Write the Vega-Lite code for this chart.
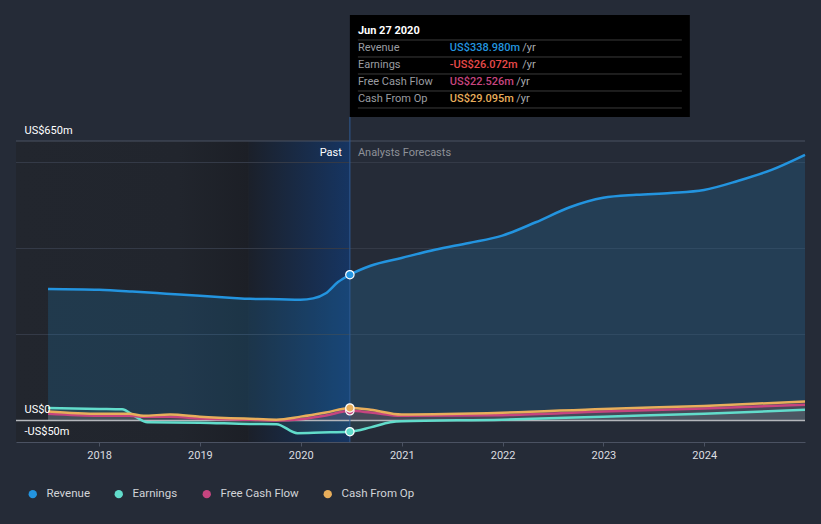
{
  "$schema": "https://vega.github.io/schema/vega-lite/v6.json",
  "width": 789,
  "height": 301,
  "autosize": "none",
  "padding": {"left": 16, "top": 141, "right": 16, "bottom": 82},
  "background": "#252b37",
  "config": {
    "view": {"stroke": null},
    "font": "Roboto",
    "axis": {"title": null, "grid": false},
    "legend": {
      "orient": "none",
      "legendX": 11,
      "legendY": 347,
      "direction": "horizontal",
      "symbolType": "circle",
      "symbolSize": 70,
      "symbolStrokeWidth": 0,
      "symbolOpacity": 1,
      "labelColor": "#d2d4d8",
      "labelFontSize": 11.5,
      "labelFont": "Roboto",
      "columnPadding": 23,
      "labelOffset": 8,
      "padding": 0,
      "title": null
    }
  },
  "datasets": {
    "series": [
      {"date": "2017-06-30", "series": "Revenue", "value": 306},
      {"date": "2018-01-01", "series": "Revenue", "value": 304},
      {"date": "2018-05-01", "series": "Revenue", "value": 300},
      {"date": "2018-09-01", "series": "Revenue", "value": 295},
      {"date": "2019-01-01", "series": "Revenue", "value": 290},
      {"date": "2019-05-01", "series": "Revenue", "value": 285},
      {"date": "2019-07-01", "series": "Revenue", "value": 283},
      {"date": "2019-10-15", "series": "Revenue", "value": 282},
      {"date": "2019-12-31", "series": "Revenue", "value": 281},
      {"date": "2020-02-15", "series": "Revenue", "value": 284},
      {"date": "2020-04-01", "series": "Revenue", "value": 296},
      {"date": "2020-05-15", "series": "Revenue", "value": 322},
      {"date": "2020-06-27", "series": "Revenue", "value": 338.98},
      {"date": "2020-09-10", "series": "Revenue", "value": 360},
      {"date": "2020-12-31", "series": "Revenue", "value": 378},
      {"date": "2021-05-01", "series": "Revenue", "value": 397},
      {"date": "2021-09-01", "series": "Revenue", "value": 413},
      {"date": "2021-12-31", "series": "Revenue", "value": 430},
      {"date": "2022-05-01", "series": "Revenue", "value": 461},
      {"date": "2022-09-01", "series": "Revenue", "value": 496},
      {"date": "2022-12-31", "series": "Revenue", "value": 518},
      {"date": "2023-05-01", "series": "Revenue", "value": 525},
      {"date": "2023-09-01", "series": "Revenue", "value": 529},
      {"date": "2023-12-31", "series": "Revenue", "value": 536},
      {"date": "2024-05-01", "series": "Revenue", "value": 557},
      {"date": "2024-09-01", "series": "Revenue", "value": 583},
      {"date": "2024-12-31", "series": "Revenue", "value": 618},

      {"date": "2017-06-30", "series": "Earnings", "value": 29},
      {"date": "2018-01-01", "series": "Earnings", "value": 27},
      {"date": "2018-03-25", "series": "Earnings", "value": 26},
      {"date": "2018-05-10", "series": "Earnings", "value": 10},
      {"date": "2018-06-25", "series": "Earnings", "value": -4},
      {"date": "2019-01-01", "series": "Earnings", "value": -5},
      {"date": "2019-06-30", "series": "Earnings", "value": -8},
      {"date": "2019-10-05", "series": "Earnings", "value": -8.5},
      {"date": "2019-12-20", "series": "Earnings", "value": -29.5},
      {"date": "2020-03-15", "series": "Earnings", "value": -28},
      {"date": "2020-06-27", "series": "Earnings", "value": -26.072},
      {"date": "2020-09-10", "series": "Earnings", "value": -16},
      {"date": "2020-11-20", "series": "Earnings", "value": -4},
      {"date": "2020-12-31", "series": "Earnings", "value": -1.5},
      {"date": "2021-12-31", "series": "Earnings", "value": 2},
      {"date": "2022-12-31", "series": "Earnings", "value": 9},
      {"date": "2023-12-31", "series": "Earnings", "value": 15.5},
      {"date": "2024-12-31", "series": "Earnings", "value": 25},

      {"date": "2017-06-30", "series": "Free Cash Flow", "value": 15.5},
      {"date": "2018-01-01", "series": "Free Cash Flow", "value": 11},
      {"date": "2018-04-20", "series": "Free Cash Flow", "value": 11},
      {"date": "2018-06-10", "series": "Free Cash Flow", "value": 8.6},
      {"date": "2018-09-15", "series": "Free Cash Flow", "value": 9},
      {"date": "2019-01-01", "series": "Free Cash Flow", "value": 4.7},
      {"date": "2019-06-30", "series": "Free Cash Flow", "value": 1.6},
      {"date": "2019-10-05", "series": "Free Cash Flow", "value": 0},
      {"date": "2020-01-01", "series": "Free Cash Flow", "value": 3},
      {"date": "2020-04-01", "series": "Free Cash Flow", "value": 11.6},
      {"date": "2020-06-27", "series": "Free Cash Flow", "value": 22.526},
      {"date": "2020-09-10", "series": "Free Cash Flow", "value": 18.6},
      {"date": "2020-12-31", "series": "Free Cash Flow", "value": 11},
      {"date": "2021-12-31", "series": "Free Cash Flow", "value": 12.4},
      {"date": "2022-12-31", "series": "Free Cash Flow", "value": 21},
      {"date": "2023-12-31", "series": "Free Cash Flow", "value": 28},
      {"date": "2024-12-31", "series": "Free Cash Flow", "value": 36.5},

      {"date": "2017-06-30", "series": "Cash From Op", "value": 21},
      {"date": "2018-01-01", "series": "Cash From Op", "value": 15.5},
      {"date": "2018-04-20", "series": "Cash From Op", "value": 15.5},
      {"date": "2018-06-10", "series": "Cash From Op", "value": 11},
      {"date": "2018-09-15", "series": "Cash From Op", "value": 14},
      {"date": "2019-01-01", "series": "Cash From Op", "value": 9},
      {"date": "2019-06-30", "series": "Cash From Op", "value": 4},
      {"date": "2019-10-05", "series": "Cash From Op", "value": 2},
      {"date": "2020-01-01", "series": "Cash From Op", "value": 9},
      {"date": "2020-04-01", "series": "Cash From Op", "value": 18.6},
      {"date": "2020-06-27", "series": "Cash From Op", "value": 29.095},
      {"date": "2020-09-10", "series": "Cash From Op", "value": 25},
      {"date": "2020-12-31", "series": "Cash From Op", "value": 14},
      {"date": "2021-12-31", "series": "Cash From Op", "value": 18},
      {"date": "2022-12-31", "series": "Cash From Op", "value": 27},
      {"date": "2023-12-31", "series": "Cash From Op", "value": 34},
      {"date": "2024-12-31", "series": "Cash From Op", "value": 44}
    ],
    "tip": [
      {"row": 0, "label": "Jun 27 2020", "value": ""},
      {"row": 1, "label": "Revenue", "value": "US$338.980m"},
      {"row": 2, "label": "Earnings", "value": "-US$26.072m"},
      {"row": 3, "label": "Free Cash Flow", "value": "US$22.526m"},
      {"row": 4, "label": "Cash From Op", "value": "US$29.095m"}
    ]
  },
  "layer": [
    {
      "layer": [
        {
          "data": {"values": [{"start": "2017-03-06", "end": "2019-06-27"}]},
          "mark": {"type": "rect", "fill": {"gradient": "linear", "x1": 0, "x2": 1, "y1": 0, "y2": 0, "stops": [{"offset": 0, "color": "#22262e"}, {"offset": 0.7, "color": "#21252d"}, {"offset": 1, "color": "#1c1f26"}]}},
          "encoding": {
            "x": {"field": "start", "type": "temporal", "scale": {"domain": [{"year": 2017, "month": 3, "date": 6, "utc": true}, {"year": 2024, "month": 12, "date": 31, "utc": true}]}, "axis": {"format": "%Y", "tickCount": {"interval": "year", "step": 1}, "labelColor": "#dcdde0", "labelFontSize": 11, "tickColor": "#4b5262", "domainColor": "#4b5262", "tickSize": 4, "labelPadding": 3, "labelFlush": false}},
            "x2": {"field": "end"},
            "y": {"datum": 650, "type": "quantitative", "scale": {"domain": [-50, 650], "nice": false, "zero": false}, "axis": {"values": [-50, 0, 650], "labelExpr": "datum.value == 0 ? 'US$0' : (datum.value < 0 ? '-US$' + abs(datum.value) + 'm' : 'US$' + datum.value + 'm')", "labelAlign": "left", "labelPadding": -8, "tickSize": 0, "ticks": false, "domain": false, "labelBaseline": "alphabetic", "labelOffset": -8, "labelColor": "#ffffff", "labelFontSize": 11, "labelOverlap": false, "labelFlush": false, "zindex": 2}},
            "y2": {"datum": -50}
          }
        },
        {
          "data": {"values": [{"start": "2019-06-27", "end": "2020-06-27"}]},
          "mark": {"type": "rect", "fill": {"gradient": "linear", "x1": 0, "x2": 1, "y1": 0, "y2": 0, "stops": [{"offset": 0, "color": "#1b202a"}, {"offset": 1, "color": "#163562"}]}},
          "encoding": {
            "x": {"field": "start", "type": "temporal"},
            "x2": {"field": "end"},
            "y": {"datum": 650, "type": "quantitative"},
            "y2": {"datum": -50}
          }
        },
        {
          "data": {"values": [{"v": 200}, {"v": 400}, {"v": 600}]},
          "mark": {"type": "rule", "color": "#343a47", "strokeWidth": 1},
          "encoding": {"y": {"field": "v", "type": "quantitative"}}
        },
        {
          "data": {"values": [{"v": 650}]},
          "mark": {"type": "rule", "color": "#4b5262", "strokeWidth": 1},
          "encoding": {"y": {"field": "v", "type": "quantitative"}}
        },
        {
          "data": {"name": "series"},
          "transform": [{"filter": "datum.series == 'Revenue'"}],
          "mark": {"type": "area", "interpolate": "monotone", "color": "#2394df", "opacity": 0.18},
          "encoding": {
            "x": {"field": "date", "type": "temporal"},
            "y": {"field": "value", "type": "quantitative"},
            "y2": {"datum": 0}
          }
        },
        {
          "data": {"name": "series"},
          "transform": [{"filter": "datum.series != 'Revenue'"}],
          "mark": {"type": "area", "interpolate": "monotone", "opacity": 0.1},
          "encoding": {
            "x": {"field": "date", "type": "temporal"},
            "y": {"field": "value", "type": "quantitative"},
            "y2": {"datum": 0},
            "color": {"field": "series", "type": "nominal"}
          }
        },
        {
          "data": {"values": [{"v": 0}]},
          "mark": {"type": "rule", "color": "#b4b6bb", "strokeWidth": 1.5},
          "encoding": {"y": {"field": "v", "type": "quantitative"}}
        },
        {
          "data": {"values": [{"d": "2020-06-27"}]},
          "mark": {"type": "rule", "color": "#2d5a94", "strokeWidth": 1},
          "encoding": {
            "x": {"field": "d", "type": "temporal"},
            "y": {"datum": -50, "type": "quantitative"},
            "y2": {"datum": 706}
          }
        },
        {
          "data": {"name": "series"},
          "mark": {"type": "line", "interpolate": "monotone", "strokeWidth": 2.5},
          "encoding": {
            "x": {"field": "date", "type": "temporal"},
            "y": {"field": "value", "type": "quantitative"},
            "color": {"field": "series", "type": "nominal", "scale": {"domain": ["Revenue", "Earnings", "Free Cash Flow", "Cash From Op"], "range": ["#2394df", "#62dccb", "#c6457f", "#e8ae5b"]}}
          }
        },
        {
          "data": {"name": "series"},
          "transform": [{"filter": "utcyear(datum.date) == 2020 && utcmonth(datum.date) == 5 && utcdate(datum.date) == 27"}],
          "mark": {"type": "point", "filled": true, "size": 70, "stroke": "#ffffff", "strokeWidth": 1.2, "opacity": 1},
          "encoding": {
            "x": {"field": "date", "type": "temporal"},
            "y": {"field": "value", "type": "quantitative"},
            "color": {"field": "series", "type": "nominal", "legend": {"symbolType": "circle", "symbolStrokeWidth": 0, "symbolOpacity": 1, "title": null}}
          }
        },
        {
          "data": {"values": [{"d": "2020-06-27"}]},
          "mark": {"type": "text", "text": "Past", "align": "right", "dx": -8, "color": "#ffffff", "fontSize": 11},
          "encoding": {"x": {"field": "d", "type": "temporal"}, "y": {"datum": 621, "type": "quantitative"}}
        },
        {
          "data": {"values": [{"d": "2020-06-27"}]},
          "mark": {"type": "text", "text": "Analysts Forecasts", "align": "left", "dx": 8, "color": "#8e9198", "fontSize": 11},
          "encoding": {"x": {"field": "d", "type": "temporal"}, "y": {"datum": 621, "type": "quantitative"}}
        }
      ]
    },
    {
      "data": {"name": "tip"},
      "layer": [
        {
          "data": {"values": [{"a": "2020-06-27", "b": "2023-11-10"}]},
          "mark": {"type": "rect", "color": "#000000"},
          "encoding": {
            "x": {"field": "a", "type": "temporal"},
            "x2": {"field": "b"},
            "y": {"datum": -0.94, "type": "quantitative", "scale": {"domain": [6.4706, 24.1765], "reverse": true, "nice": false, "zero": false}, "axis": null},
            "y2": {"datum": 5.06}
          }
        },
        {
          "mark": {"type": "rule", "color": "#3b3b3b", "strokeWidth": 1, "yOffset": 9},
          "encoding": {
            "x": {"datum": {"year": 2020, "month": 7, "date": 26, "utc": true}, "type": "temporal"},
            "x2": {"datum": {"year": 2023, "month": 10, "date": 12, "utc": true}},
            "y": {"field": "row", "type": "quantitative", "axis": null}
          }
        },
        {
          "transform": [{"filter": "datum.row == 0"}],
          "mark": {"type": "text", "align": "left", "fontWeight": "bold", "color": "#ffffff", "fontSize": 11},
          "encoding": {
            "x": {"datum": {"year": 2020, "month": 7, "date": 26, "utc": true}, "type": "temporal"},
            "y": {"field": "row", "type": "quantitative", "axis": null},
            "text": {"field": "label"}
          }
        },
        {
          "transform": [{"filter": "datum.row > 0"}],
          "mark": {"type": "text", "align": "left", "color": "#9a9ca0", "fontSize": 11},
          "encoding": {
            "x": {"datum": {"year": 2020, "month": 7, "date": 26, "utc": true}, "type": "temporal"},
            "y": {"field": "row", "type": "quantitative", "axis": null},
            "text": {"field": "label"}
          }
        },
        {
          "transform": [{"filter": "datum.row > 0"}],
          "mark": {"type": "text", "align": "left", "fontSize": 11, "fontWeight": 500},
          "encoding": {
            "x": {"datum": {"year": 2021, "month": 6, "date": 24, "utc": true}, "type": "temporal"},
            "y": {"field": "row", "type": "quantitative", "axis": null},
            "text": {"field": "value"},
            "fill": {"field": "label", "type": "nominal", "scale": {"domain": ["Revenue", "Earnings", "Free Cash Flow", "Cash From Op"], "range": ["#2394df", "#e84a4a", "#c6457f", "#e8ae5b"]}, "legend": null}
          }
        },
        {
          "transform": [{"filter": "datum.row == 1 || datum.row == 2"}],
          "mark": {"type": "text", "align": "left", "fontSize": 11, "color": "#a8aaae", "text": "/yr"},
          "encoding": {
            "x": {"datum": {"year": 2022, "month": 3, "date": 13, "utc": true}, "type": "temporal"},
            "y": {"field": "row", "type": "quantitative", "axis": null}
          }
        },
        {
          "transform": [{"filter": "datum.row == 3 || datum.row == 4"}],
          "mark": {"type": "text", "align": "left", "fontSize": 11, "color": "#a8aaae", "text": "/yr"},
          "encoding": {
            "x": {"datum": {"year": 2022, "month": 2, "date": 19, "utc": true}, "type": "temporal"},
            "y": {"field": "row", "type": "quantitative", "axis": null}
          }
        }
      ]
    }
  ],
  "resolve": {"scale": {"y": "independent"}}
}
